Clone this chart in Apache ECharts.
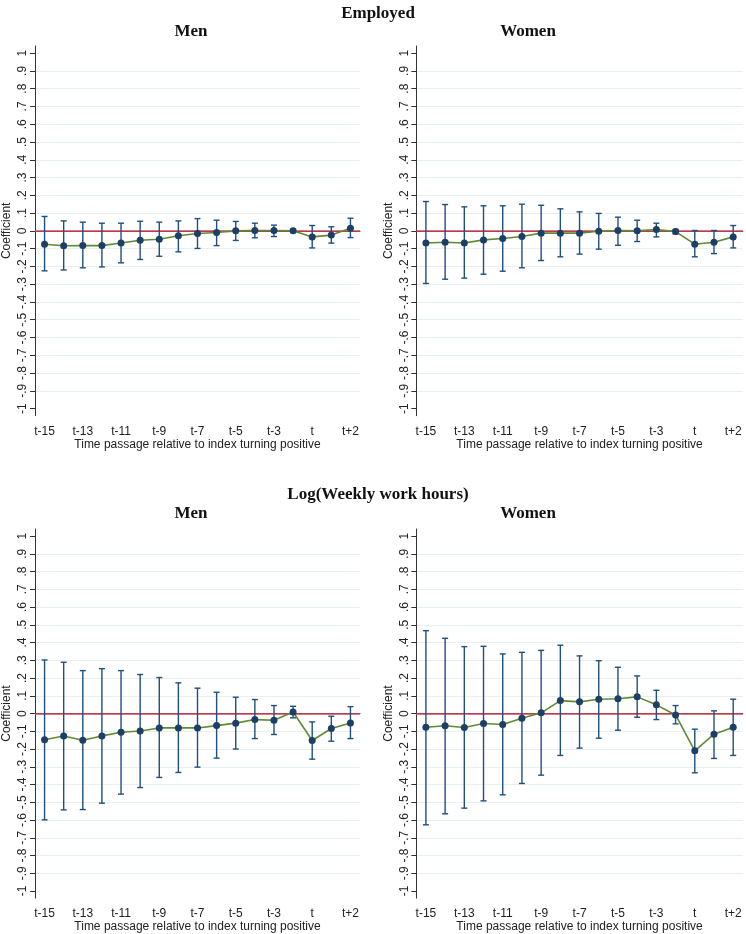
<!DOCTYPE html>
<html>
<head>
<meta charset="utf-8">
<script src="https://cdn.jsdelivr.net/npm/echarts@6/dist/echarts.min.js"></script>
<style>html,body{margin:0;padding:0;background:#fff}#c{width:746px;height:934px}</style>
</head>
<body>
<div id="c"></div>
<script>
const categories = ['t-15','t-14','t-13','t-12','t-11','t-10','t-9','t-8','t-7','t-6','t-5','t-4','t-3','t-2','t','t+1','t+2'];
const yTicks = [-1,-0.9,-0.8,-0.7,-0.6,-0.5,-0.4,-0.3,-0.2,-0.1,0,0.1,0.2,0.3,0.4,0.5,0.6,0.7,0.8,0.9,1];

// Employed, Men
const empMenCoef = [-0.075,-0.084,-0.083,-0.083,-0.068,-0.053,-0.047,-0.028,-0.015,-0.009,0.000,0.002,0.002,0.000,-0.034,-0.024,0.015];
const empMenLo   = [-0.225,-0.220,-0.208,-0.203,-0.180,-0.161,-0.143,-0.118,-0.099,-0.083,-0.054,-0.039,-0.032,-0.008,-0.096,-0.069,-0.038];
const empMenHi   = [0.081,0.056,0.049,0.043,0.043,0.054,0.049,0.056,0.069,0.060,0.053,0.043,0.032,0.009,0.030,0.023,0.071];
// Employed, Women
const empWomCoef = [-0.068,-0.064,-0.068,-0.051,-0.043,-0.032,-0.013,-0.013,-0.013,-0.002,0.002,0.000,0.008,-0.004,-0.075,-0.064,-0.034];
const empWomLo   = [-0.296,-0.272,-0.266,-0.244,-0.227,-0.208,-0.167,-0.146,-0.131,-0.103,-0.081,-0.060,-0.034,-0.017,-0.146,-0.128,-0.096];
const empWomHi   = [0.165,0.148,0.135,0.141,0.141,0.150,0.144,0.124,0.107,0.098,0.077,0.060,0.043,0.008,0.002,0.002,0.030];
// Log(Weekly work hours), Men
const hrsMenCoef = [-0.148,-0.126,-0.150,-0.126,-0.105,-0.098,-0.081,-0.081,-0.081,-0.068,-0.054,-0.034,-0.038,0.009,-0.152,-0.084,-0.053];
const hrsMenLo   = [-0.599,-0.543,-0.541,-0.505,-0.454,-0.417,-0.360,-0.332,-0.302,-0.251,-0.200,-0.141,-0.118,-0.024,-0.257,-0.156,-0.141];
const hrsMenHi   = [0.302,0.289,0.242,0.253,0.242,0.220,0.203,0.173,0.143,0.120,0.092,0.079,0.045,0.041,-0.047,-0.015,0.039];
// Log(Weekly work hours), Women
const hrsWomCoef = [-0.077,-0.069,-0.079,-0.056,-0.062,-0.026,0.004,0.073,0.066,0.081,0.083,0.094,0.049,-0.008,-0.210,-0.116,-0.077];
const hrsWomLo   = [-0.627,-0.565,-0.533,-0.492,-0.458,-0.394,-0.347,-0.236,-0.195,-0.139,-0.094,-0.021,-0.034,-0.058,-0.334,-0.253,-0.236];
const hrsWomHi   = [0.467,0.424,0.377,0.379,0.336,0.345,0.356,0.385,0.325,0.298,0.261,0.212,0.131,0.045,-0.088,0.015,0.081];

const panels = [
  {coef: empMenCoef, lo: empMenLo, hi: empMenHi},
  {coef: empWomCoef, lo: empWomLo, hi: empWomHi},
  {coef: hrsMenCoef, lo: hrsMenLo, hi: hrsMenHi},
  {coef: hrsWomCoef, lo: hrsWomLo, hi: hrsWomHi}
];

const NAVY = '#1f4f7e', MARK = '#1b3f66', GREEN = '#5e8b2e', RED = '#d9475a', GRID = '#e6f0f3', AX = '#333';
const grids = [
  {left: 33.5, top: 46, width: 326.5, height: 369.7},
  {left: 416.3, top: 46, width: 326.5, height: 369.7},
  {left: 33.5, top: 529, width: 326.5, height: 371},
  {left: 416.3, top: 529, width: 326.5, height: 371}
];

function fmtY(v){
  if (Math.abs(v) < 1e-9) return '0';
  const a = Math.abs(v);
  const s = Math.abs(a - 1) < 1e-9 ? '1' : '.' + Math.round(a * 10);
  return (v < 0 ? '-' : '') + s;
}

const splitColors = yTicks.map((v, i) => (i === 0 || i === yTicks.length - 1) ? 'rgba(0,0,0,0)' : GRID);

const xAxis = [], yAxis = [], series = [];
panels.forEach((p, k) => {
  xAxis.push({
    type: 'category', gridIndex: k, data: categories, boundaryGap: true,
    name: 'Time passage relative to index turning positive', nameLocation: 'middle', nameGap: 22,
    nameTextStyle: {fontFamily: 'Liberation Sans', fontSize: 12, color: '#222'},
    axisLine: {lineStyle: {color: AX, width: 1}},
    axisTick: {interval: 1, alignWithLabel: true, length: 5, lineStyle: {color: AX}},
    axisLabel: {interval: 1, margin: 10, fontFamily: 'Liberation Sans', fontSize: 12, color: '#222'},
    splitLine: {show: false}
  });
  yAxis.push({
    type: 'value', gridIndex: k, min: -1.04, max: 1.04,
    name: 'Coefficient', nameLocation: 'middle', nameGap: 22, nameRotate: 90,
    nameTextStyle: {fontFamily: 'Liberation Sans', fontSize: 12, color: '#222'},
    axisLine: {show: true, lineStyle: {color: AX, width: 1}},
    axisTick: {show: true, length: 5, customValues: yTicks, lineStyle: {color: AX}},
    axisLabel: {customValues: yTicks, rotate: 90, margin: 6, formatter: fmtY,
      fontFamily: 'Liberation Sans', fontSize: 12, color: '#222'},
    splitLine: {show: true, lineStyle: {color: splitColors, width: 1}}
  });
  const errData = categories.map((c, i) => [i, p.lo[i], p.hi[i]]);
  series.push({
    type: 'custom', xAxisIndex: k, yAxisIndex: k, z: 3,
    data: errData, encode: {x: 0, y: [1, 2]},
    renderItem: function(params, api){
      const x = api.value(0);
      const a = api.coord([x, api.value(2)]);
      const b = api.coord([x, api.value(1)]);
      const w = 3;
      const st = {stroke: NAVY, lineWidth: 1.4};
      return {type: 'group', children: [
        {type: 'line', shape: {x1: a[0], y1: a[1], x2: b[0], y2: b[1]}, style: st},
        {type: 'line', shape: {x1: a[0]-w, y1: a[1], x2: a[0]+w, y2: a[1]}, style: st},
        {type: 'line', shape: {x1: b[0]-w, y1: b[1], x2: b[0]+w, y2: b[1]}, style: st}
      ]};
    },
    markLine: {silent: true, symbol: 'none', z: 2, label: {show: false},
      lineStyle: {color: RED, width: 1.5, type: 'solid'}, data: [{yAxis: 0}]}
  });
  series.push({
    type: 'line', xAxisIndex: k, yAxisIndex: k, z: 4,
    data: p.coef, symbol: 'circle', symbolSize: 7, showSymbol: true,
    itemStyle: {color: MARK}, lineStyle: {color: GREEN, width: 1.6},
    emphasis: {disabled: true}
  });
});

const tStyle = {fontFamily: 'Liberation Serif', fontWeight: 'bold', fontSize: 17, color: '#111'};
const title = [
  {text: 'Employed', left: 373, top: 0, textAlign: 'center', textStyle: tStyle},
  {text: 'Men', left: 186, top: 18, textAlign: 'center', textStyle: tStyle},
  {text: 'Women', left: 523, top: 18, textAlign: 'center', textStyle: tStyle},
  {text: 'Log(Weekly work hours)', left: 373, top: 481, textAlign: 'center', textStyle: tStyle},
  {text: 'Men', left: 186, top: 500, textAlign: 'center', textStyle: tStyle},
  {text: 'Women', left: 523, top: 500, textAlign: 'center', textStyle: tStyle}
];

const chart = echarts.init(document.getElementById('c'), null, {renderer: 'canvas'});
chart.setOption({
  animation: false, backgroundColor: '#fff',
  title: title, grid: grids, xAxis: xAxis, yAxis: yAxis, series: series
});
</script>
</body>
</html>
